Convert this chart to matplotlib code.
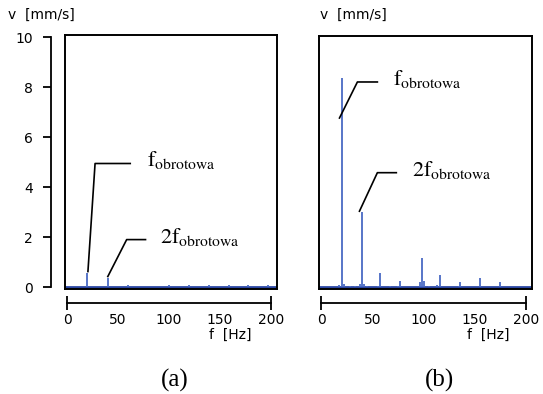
import numpy as np
import matplotlib.pyplot as plt

plt.rcParams['mathtext.fontset'] = 'stix'

# spectrum (a): frequency [Hz] and amplitude [mm/s]
freq_a = [20, 40, 60, 100, 120, 139, 159, 178, 197]
amp_a = [0.56, 0.36, 0.08, 0.08, 0.08, 0.07, 0.10, 0.07, 0.07]

# spectrum (b)
freq_b = [18, 20, 22, 28, 33, 38, 40, 42, 45, 56, 58, 67, 75, 77, 97, 99, 101,
          105, 113, 116, 135, 136, 155, 175]
amp_b = [0.10, 8.4, 0.12, 0.05, 0.05, 0.12, 3.0, 0.12, 0.05, 0.06, 0.56, 0.05,
         0.06, 0.25, 0.22, 1.16, 0.25, 0.06, 0.08, 0.48, 0.06, 0.20, 0.36, 0.20]

x_ticks = [0, 50, 100, 150, 200]
y_ticks = [0, 2, 4, 6, 8, 10]

peak_col = '#4a6ac4'
base_col = '#2b46a2'
W, H = 543, 394

fig = plt.figure(figsize=(W / 100, H / 100), dpi=100)


def panel(x0, x1, y0, y1, freqs, amps, show_y, lab_x):
    rect = [x0 / W, 1 - y1 / H, (x1 - x0) / W, (y1 - y0) / H]
    box = fig.add_axes(rect)
    box.set_xlim(-2, 206)
    box.set_ylim(-0.08, 10.1)
    box.set_xticks([])
    box.set_yticks([])
    for s in box.spines.values():
        s.set_linewidth(1.4)
    box.axhline(0, color=base_col, lw=2)
    box.vlines(freqs, 0, amps, color=peak_col, lw=1.3)

    ax = fig.add_axes(rect, facecolor='none')
    ax.set_xlim(-2, 206)
    ax.set_ylim(-0.08, 10.1)
    ax.spines['top'].set_visible(False)
    ax.spines['right'].set_visible(False)
    ax.spines['bottom'].set_position(('outward', 10))
    ax.spines['bottom'].set_bounds(0, 200)
    ax.spines['bottom'].set_linewidth(1.3)
    ax.set_xticks(x_ticks)
    ax.tick_params(axis='x', length=10, width=1.3, direction='inout', pad=2,
                   labelsize=10)
    # only the end ticks carry a mark
    for t in ax.xaxis.get_major_ticks()[1:-1]:
        t.tick1line.set_visible(False)
    if show_y:
        ax.spines['left'].set_position(('outward', 10))
        ax.spines['left'].set_bounds(0, 10)
        ax.spines['left'].set_linewidth(1.3)
        ax.set_yticks(y_ticks)
        ax.tick_params(axis='y', length=6, width=1.3, pad=7, labelsize=10)
    else:
        ax.spines['left'].set_visible(False)
        ax.set_yticks([])
    fig.text(x0 - 57 if show_y else x0 + 1, H - 15, 'v  [mm/s]', transform=None,
             fontsize=10, ha='left', va='center')
    fig.text(lab_x, H - 335, 'f  [Hz]', transform=None, fontsize=10,
             ha='center', va='center')
    return box


ta = dict(fontsize=16, va='center', ha='left')
lk = dict(color='black', lw=1.2)

a = panel(65, 277, 35, 289, freq_a, amp_a, True, 230)
a.plot([20.5, 27.5, 62], [0.62, 4.95, 4.95], **lk)
a.text(78, 5.1, r'$\mathrm{f}_{\mathrm{obrotowa}}$', **ta)
a.plot([40, 58.5, 77], [0.42, 1.9, 1.9], **lk)
a.text(91, 2.0, r'$\mathrm{2f}_{\mathrm{obrotowa}}$', **ta)

b = panel(319, 532, 36, 289, freq_b, amp_b, False, 488)
b.plot([18, 35.5, 55], [6.8, 8.25, 8.25], **lk)
b.text(70, 8.35, r'$\mathrm{f}_{\mathrm{obrotowa}}$', **ta)
b.plot([37.5, 55, 73.5], [3.05, 4.6, 4.6], **lk)
b.text(89, 4.7, r'$\mathrm{2f}_{\mathrm{obrotowa}}$', **ta)

fig.text(175, H - 380, '(a)', transform=None, fontsize=18, family='Liberation Serif',
         ha='center', va='center')
fig.text(440, H - 380, '(b)', transform=None, fontsize=18, family='Liberation Serif',
         ha='center', va='center')

fig.savefig('out.png', dpi=100)
